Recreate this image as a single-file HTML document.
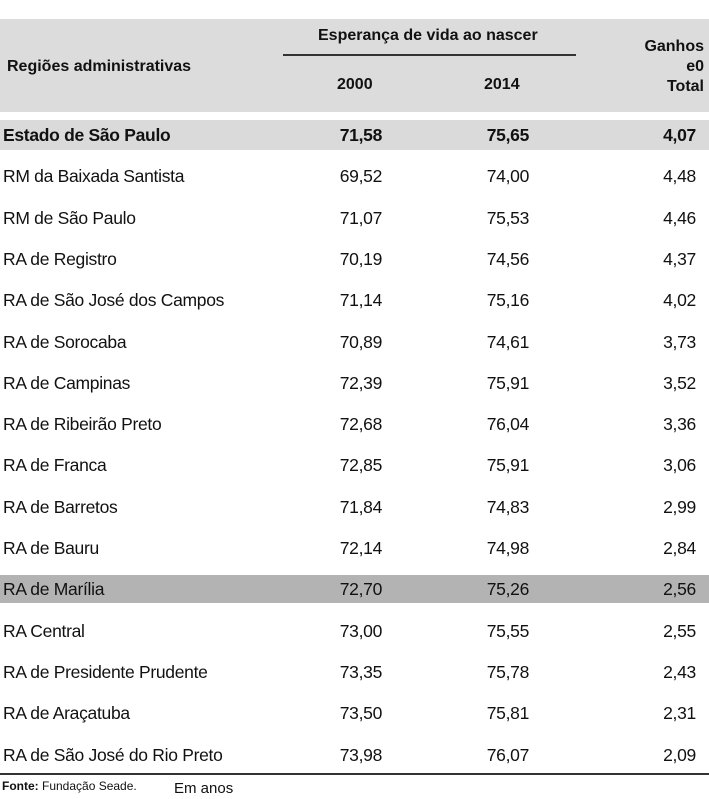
<!DOCTYPE html>
<html><head><meta charset="utf-8"><style>
body{margin:0;width:709px;height:799px;background:#fff;font-family:"Liberation Sans",sans-serif;color:#111;position:relative;overflow:hidden}
div{position:absolute;white-space:nowrap}
.h{font-weight:bold;font-size:16px}
.r{font-size:17.5px;letter-spacing:-0.3px}
.n{text-align:right}
</style></head><body>
<div style="left:0;top:19px;width:709px;height:93px;background:#dcdcdd"></div>
<div style="left:283px;top:54px;width:293px;height:2px;background:#333"></div>
<div class="h" style="left:7px;top:58px">Regiões administrativas</div>
<div class="h" style="left:318px;top:27px">Esperança de vida ao nascer</div>
<div class="h" style="left:337px;top:76px">2000</div>
<div class="h" style="left:484px;top:76px">2014</div>
<div class="h n" style="left:600px;width:104px;top:37px;line-height:20px">Ganhos<br>e0<br>Total</div>
<div style="left:0;top:120px;width:709px;height:30px;background:#dadada"></div>
<div style="left:0;top:575px;width:709px;height:28px;background:#b3b3b3"></div>
<div style="left:0;top:773px;width:709px;height:2px;background:#333"></div>
<div id="rows"></div>
<div style="left:2px;top:779px;font-size:12px"><b>Fonte:</b> Fundação Seade.</div>
<div style="left:174px;top:780px;font-size:15px">Em anos</div>
<script>
var d=[["Estado de São Paulo","71,58","75,65","4,07"],["RM da Baixada Santista","69,52","74,00","4,48"],["RM de São Paulo","71,07","75,53","4,46"],["RA de Registro","70,19","74,56","4,37"],["RA de São José dos Campos","71,14","75,16","4,02"],["RA de Sorocaba","70,89","74,61","3,73"],["RA de Campinas","72,39","75,91","3,52"],["RA de Ribeirão Preto","72,68","76,04","3,36"],["RA de Franca","72,85","75,91","3,06"],["RA de Barretos","71,84","74,83","2,99"],["RA de Bauru","72,14","74,98","2,84"],["RA de Marília","72,70","75,26","2,56"],["RA Central","73,00","75,55","2,55"],["RA de Presidente Prudente","73,35","75,78","2,43"],["RA de Araçatuba","73,50","75,81","2,31"],["RA de São José do Rio Preto","73,98","76,07","2,09"]];
var h="";d.forEach(function(r,i){var y=134+i*41.3-9;var b=i==0?"font-weight:bold;":"";
h+='<div class="r" style="'+b+'left:3px;top:'+y+'px">'+r[0]+'</div>';
h+='<div class="r n" style="'+b+'left:282px;width:100px;top:'+y+'px">'+r[1]+'</div>';
h+='<div class="r n" style="'+b+'left:429px;width:100px;top:'+y+'px">'+r[2]+'</div>';
h+='<div class="r n" style="'+b+'left:596px;width:100px;top:'+y+'px">'+r[3]+'</div>';});
document.getElementById("rows").outerHTML=h;
</script>
</body></html>
